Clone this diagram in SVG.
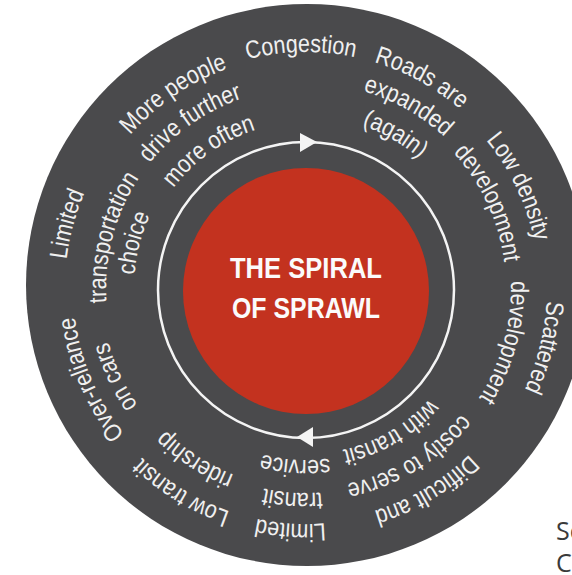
<svg xmlns="http://www.w3.org/2000/svg" xmlns:xlink="http://www.w3.org/1999/xlink" width="572" height="575" viewBox="0 0 572 575">
<style>
.lbl { font-family: "Liberation Sans", Arial, sans-serif; font-size: 25px; fill: #f0f0f0; text-anchor: middle; }
.title { font-family: "Liberation Sans", Arial, sans-serif; font-weight: bold; font-size: 30px; fill: #fbfbfb; text-anchor: middle; }
.src { font-family: "Open Sans", "Liberation Sans", sans-serif; font-size: 25px; fill: #3a3a3a; }
.ring { fill: none; stroke: #f4f4f4; stroke-width: 2.5; }
.head { fill: #f4f4f4; }
</style>
<defs>
<path id="r166" d="M306 454 A166 166 0 0 1 306 122 A166 166 0 0 1 306 454"/>
<path id="r172" d="M306 460 A172 172 0 0 1 306 116 A172 172 0 0 1 306 460"/>
<path id="r200" d="M306 488 A200 200 0 0 1 306 88 A200 200 0 0 1 306 488"/>
<path id="r205" d="M306 493 A205 205 0 0 1 306 83 A205 205 0 0 1 306 493"/>
<path id="r233" d="M306 521 A233 233 0 0 1 306 55 A233 233 0 0 1 306 521"/>
<path id="r236" d="M306 524 A236 236 0 0 1 306 52 A236 236 0 0 1 306 524"/>
<path id="r241" d="M306 529 A241 241 0 0 1 306 47 A241 241 0 0 1 306 529"/>
</defs>
<rect width="572" height="575" fill="#ffffff"/>
<circle id="outer-disc" cx="307" cy="285" r="281" fill="#4a4a4c"/>
<g id="connectors">
<circle class="ring" cx="306" cy="290" r="148"/>
<polygon class="head" points="300,133 300,152 317,142"/>
<polygon class="head" points="313,427 313,447 297,437"/>
</g>
<g id="center">
<circle cx="306" cy="291" r="123" fill="#c3321f"/>
<text class="title" x="306" y="278" textLength="152" lengthAdjust="spacingAndGlyphs">THE SPIRAL</text>
<text class="title" x="306" y="318" textLength="148" lengthAdjust="spacingAndGlyphs">OF SPRAWL</text>
</g>
<g id="congestion">
<text class="lbl" transform="rotate(-1.2 306 288)"><textPath xlink:href="#r236" href="#r236" startOffset="50%" textLength="108.7" lengthAdjust="spacingAndGlyphs">Congestion</textPath></text>
</g>
<g id="roads-expanded">
<text class="lbl" transform="rotate(28.8 306 288)"><textPath xlink:href="#r236" href="#r236" startOffset="50%" textLength="99.2" lengthAdjust="spacingAndGlyphs">Roads are</textPath></text>
<text class="lbl" transform="rotate(29.3 306 288)"><textPath xlink:href="#r205" href="#r205" startOffset="50%" textLength="94.4" lengthAdjust="spacingAndGlyphs">expanded</textPath></text>
<text class="lbl" transform="rotate(30.1 306 288)"><textPath xlink:href="#r172" href="#r172" startOffset="50%" textLength="66.9" lengthAdjust="spacingAndGlyphs">(again)</textPath></text>
</g>
<g id="low-density">
<text class="lbl" transform="rotate(64.5 306 288)"><textPath xlink:href="#r233" href="#r233" startOffset="50%" textLength="113.5" lengthAdjust="spacingAndGlyphs">Low density</textPath></text>
<text class="lbl" transform="rotate(65 306 288)"><textPath xlink:href="#r200" href="#r200" startOffset="50%" textLength="123.1" lengthAdjust="spacingAndGlyphs">development</textPath></text>
</g>
<g id="scattered">
<text class="lbl" transform="rotate(104 306 288)"><textPath xlink:href="#r241" href="#r241" startOffset="50%" textLength="92" lengthAdjust="spacingAndGlyphs">Scattered</textPath></text>
<text class="lbl" transform="rotate(105.3 306 288)"><textPath xlink:href="#r205" href="#r205" startOffset="50%" textLength="123.1" lengthAdjust="spacingAndGlyphs">development</textPath></text>
</g>
<g id="difficult-costly">
<text class="lbl" transform="rotate(149.3 306 288)"><textPath xlink:href="#r233" href="#r233" startOffset="50%" textLength="112.3" lengthAdjust="spacingAndGlyphs">Difficult and</textPath></text>
<text class="lbl" transform="rotate(148.7 306 288)"><textPath xlink:href="#r200" href="#r200" startOffset="50%" textLength="137.4" lengthAdjust="spacingAndGlyphs">costly to serve</textPath></text>
<text class="lbl" transform="rotate(149.6 306 288)"><textPath xlink:href="#r166" href="#r166" startOffset="50%" textLength="102.7" lengthAdjust="spacingAndGlyphs">with transit</textPath></text>
</g>
<g id="limited-transit-service">
<text class="lbl" transform="rotate(183.7 306 288)"><textPath xlink:href="#r236" href="#r236" startOffset="50%" textLength="69.3" lengthAdjust="spacingAndGlyphs">Limited</textPath></text>
<text class="lbl" transform="rotate(183.7 306 288)"><textPath xlink:href="#r205" href="#r205" startOffset="50%" textLength="58.5" lengthAdjust="spacingAndGlyphs">transit</textPath></text>
<text class="lbl" transform="rotate(183.5 306 288)"><textPath xlink:href="#r172" href="#r172" startOffset="50%" textLength="68.1" lengthAdjust="spacingAndGlyphs">service</textPath></text>
</g>
<g id="low-ridership">
<text class="lbl" transform="rotate(211.4 306 288)"><textPath xlink:href="#r236" href="#r236" startOffset="50%" textLength="104" lengthAdjust="spacingAndGlyphs">Low transit</textPath></text>
<text class="lbl" transform="rotate(212.9 306 288)"><textPath xlink:href="#r200" href="#r200" startOffset="50%" textLength="82.4" lengthAdjust="spacingAndGlyphs">ridership</textPath></text>
</g>
<g id="over-reliance">
<text class="lbl" transform="rotate(247 306 288)"><textPath xlink:href="#r233" href="#r233" startOffset="50%" textLength="129" lengthAdjust="spacingAndGlyphs">Over-reliance</textPath></text>
<text class="lbl" transform="rotate(245 306 288)"><textPath xlink:href="#r205" href="#r205" startOffset="50%" textLength="70.5" lengthAdjust="spacingAndGlyphs">on cars</textPath></text>
</g>
<g id="limited-choice">
<text class="lbl" transform="rotate(285 306 288)"><textPath xlink:href="#r241" href="#r241" startOffset="50%" textLength="69.3" lengthAdjust="spacingAndGlyphs">Limited</textPath></text>
<text class="lbl" transform="rotate(284.6 306 288)"><textPath xlink:href="#r200" href="#r200" startOffset="50%" textLength="131.5" lengthAdjust="spacingAndGlyphs">transportation</textPath></text>
<text class="lbl" transform="rotate(284.7 306 288)"><textPath xlink:href="#r172" href="#r172" startOffset="50%" textLength="62.1" lengthAdjust="spacingAndGlyphs">choice</textPath></text>
</g>
<g id="more-people">
<text class="lbl" transform="rotate(-34.3 306 288)"><textPath xlink:href="#r233" href="#r233" startOffset="50%" textLength="119.5" lengthAdjust="spacingAndGlyphs">More people</textPath></text>
<text class="lbl" transform="rotate(-35 306 288)"><textPath xlink:href="#r200" href="#r200" startOffset="50%" textLength="114.7" lengthAdjust="spacingAndGlyphs">drive further</textPath></text>
<text class="lbl" transform="rotate(-35.3 306 288)"><textPath xlink:href="#r166" href="#r166" startOffset="50%" textLength="102.8" lengthAdjust="spacingAndGlyphs">more often</textPath></text>
</g>
<g id="source">
<text class="src" x="556" y="540">Sc</text>
<text class="src" x="556" y="572">C</text>
</g>
</svg>
